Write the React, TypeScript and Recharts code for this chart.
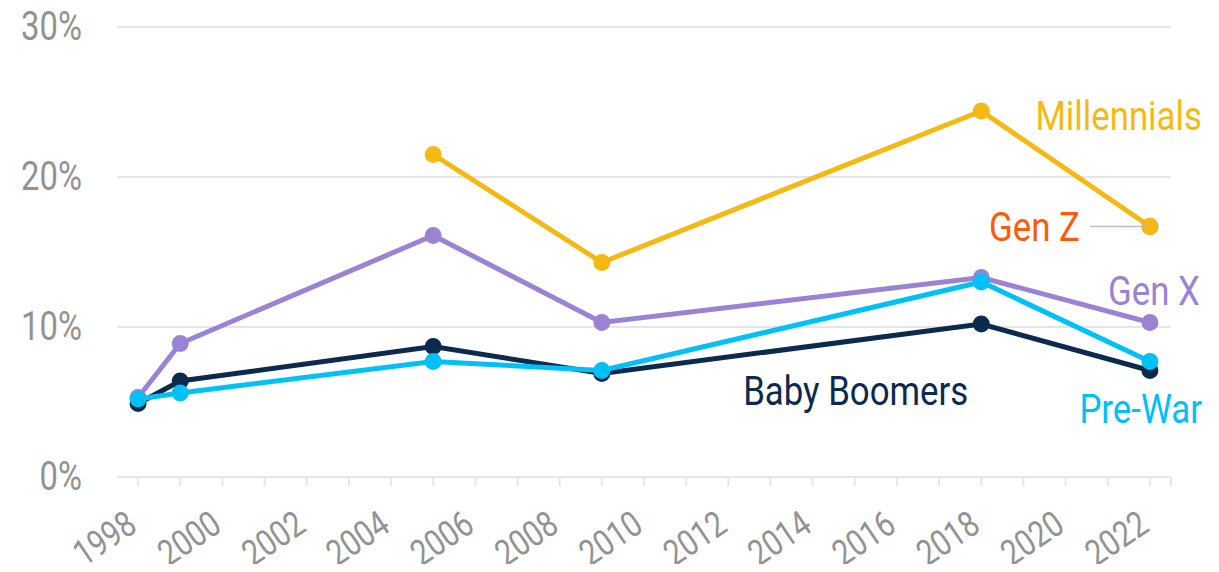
import React from 'react';
import { LineChart, Line, XAxis, YAxis, CartesianGrid, LabelList } from 'recharts';

const years = [1998, 1999, 2005, 2009, 2018, 2022];
const millennials = [null, null, 21.5, 14.3, 24.4, 16.7];
const genZ = [null, null, null, null, null, 16.7];
const genX = [5.3, 8.9, 16.1, 10.3, 13.3, 10.3];
const babyBoomers = [4.9, 6.4, 8.7, 6.9, 10.2, 7.1];
const preWar = [5.2, 5.6, 7.7, 7.1, 13.0, 7.7];

const xTicks = [1998, 1999, 2000, 2001, 2002, 2003, 2004, 2005, 2006, 2007, 2008, 2009, 2010,
  2011, 2012, 2013, 2014, 2015, 2016, 2017, 2018, 2019, 2020, 2021, 2022, 2022.5];
const yTicks = [0, 10, 20, 30];

const data = years.map((year, i) => ({
  year,
  millennials: millennials[i],
  genZ: genZ[i],
  genX: genX[i],
  babyBoomers: babyBoomers[i],
  preWar: preWar[i],
}));

const FONT = 'Roboto, "DejaVu Sans Condensed", sans-serif';
const SQUEEZE = 0.82; // fake a condensed face
const GRID = '#e6e6e6';
const TEXT = '#929292';

const C = {
  millennials: '#F5B914',
  genZ: '#FF5A0A',
  genX: '#9B83D3',
  babyBoomers: '#0B2A4E',
  preWar: '#00C1F7',
};

const XTick = (props: any) => {
  const { x, y, payload } = props;
  const v = payload.value;
  if (v % 2 !== 0) return null;
  return (
    <g transform={`translate(${x + 1},${y + 38})`}>
      <text transform={`rotate(-34) scale(${SQUEEZE},1)`} textAnchor="end" fill={TEXT}
        fontSize={36} fontFamily={FONT}>
        {v}
      </text>
    </g>
  );
};

const YTick = (props: any) => {
  const { x, y, payload } = props;
  return (
    <text transform={`translate(${x},${y + 13}) scale(${SQUEEZE},1)`} textAnchor="end"
      fill={TEXT} fontSize={40} fontFamily={FONT}>
      {`${payload.value}%`}
    </text>
  );
};

// draws the series name next to one chosen point
const seriesLabel = (text: string, color: string, at: number, dx: number, dy: number, leader = false) =>
  (props: any) => {
    const { x, y, index } = props;
    if (index !== at || x == null || y == null) return null;
    return (
      <g>
        {leader && <line x1={x - 60} y1={y} x2={x - 2} y2={y} stroke="#bdbdbd" strokeWidth={1.5} />}
        <text transform={`translate(${x + dx},${y + dy}) scale(0.87,1)`} textAnchor="end"
          fill={color} fontSize={40} fontFamily={FONT}>
          {text}
        </text>
      </g>
    );
  };

export default function App() {
  const last = years.length - 1;
  return (
    <div style={{ width: 1203, height: 556 }}>
      <style>{'.recharts-surface { overflow: visible; }'}</style>
      <LineChart
        width={1203}
        height={556}
        data={data}
        margin={{ top: 19, right: 40, bottom: 0, left: 0 }}
        style={{ fontFamily: FONT, overflow: 'visible' }}
      >
        <CartesianGrid vertical={false} stroke={GRID} strokeWidth={2} />
        <XAxis
          dataKey="year"
          type="number"
          domain={[1997.5, 2022.5]}
          ticks={xTicks}
          interval={0}
          height={87}
          axisLine={{ stroke: GRID, strokeWidth: 2 }}
          tickLine={{ stroke: GRID, strokeWidth: 2 }}
          tickSize={9}
          tickMargin={6}
          tick={<XTick />}
        />
        <YAxis
          type="number"
          domain={[0, 30]}
          ticks={yTicks}
          width={109}
          axisLine={false}
          tickLine={false}
          tickSize={0}
          tickMargin={35}
          tick={<YTick />}
        />
        <Line dataKey="genZ" stroke={C.genZ} strokeWidth={5} isAnimationActive={false}
          dot={{ r: 6, fill: C.genZ, stroke: C.genZ }}>
          <LabelList content={seriesLabel('Gen Z', C.genZ, last, -70, 14, true)} />
        </Line>
        <Line dataKey="genX" stroke={C.genX} strokeWidth={5} isAnimationActive={false}
          dot={{ r: 6, fill: C.genX, stroke: C.genX }}>
          <LabelList content={seriesLabel('Gen X', C.genX, last, 50, -18)} />
        </Line>
        <Line dataKey="babyBoomers" stroke={C.babyBoomers} strokeWidth={5} isAnimationActive={false}
          dot={{ r: 6, fill: C.babyBoomers, stroke: C.babyBoomers }}>
          <LabelList content={seriesLabel('Baby Boomers', C.babyBoomers, 4, -13, 81)} />
        </Line>
        <Line dataKey="preWar" stroke={C.preWar} strokeWidth={5} isAnimationActive={false}
          dot={{ r: 6, fill: C.preWar, stroke: C.preWar }}>
          <LabelList content={seriesLabel('Pre-War', C.preWar, last, 52, 61)} />
        </Line>
        <Line dataKey="millennials" stroke={C.millennials} strokeWidth={5} isAnimationActive={false}
          dot={{ r: 6, fill: C.millennials, stroke: C.millennials }}>
          <LabelList content={seriesLabel('Millennials', C.millennials, last, 52, -97)} />
        </Line>
      </LineChart>
    </div>
  );
}
